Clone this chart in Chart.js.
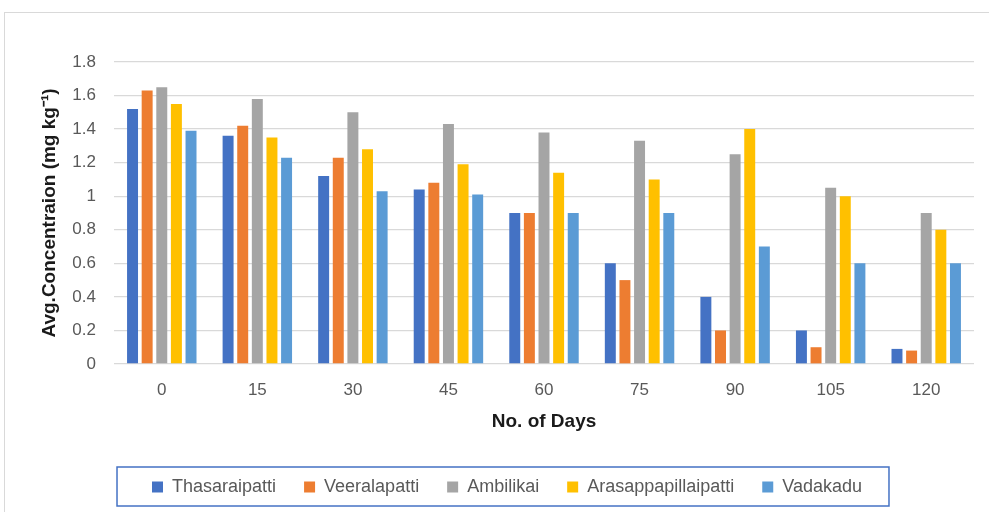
<!DOCTYPE html>
<html>
<head>
<meta charset="utf-8">
<script src="https://cdn.jsdelivr.net/npm/chart.js@4"></script>
<style>
  html, body { margin: 0; padding: 0; background: #fff; overflow: hidden; }
  #wrap { position: relative; width: 989px; height: 512px; }
  #frame { position: absolute; left: 4px; top: 12px; width: 1100px; height: 600px; border: 1px solid #d9d9d9; }
  canvas { position: absolute; left: 0; top: 0; }
</style>
</head>
<body>
<div id="wrap">
  <div id="frame"></div>
  <canvas id="chart" width="989" height="512"></canvas>
</div>
<script>
// days on the x axis
const days = ['0', '15', '30', '45', '60', '75', '90', '105', '120'];

// average concentration per site (mg/kg)
const thasaraipatti = [1.52, 1.36, 1.12, 1.04, 0.90, 0.60, 0.40, 0.20, 0.09];
const veeralapatti = [1.63, 1.42, 1.23, 1.08, 0.90, 0.50, 0.20, 0.10, 0.08];
const ambilikai = [1.65, 1.58, 1.50, 1.43, 1.38, 1.33, 1.25, 1.05, 0.90];
const arasappapillaipatti = [1.55, 1.35, 1.28, 1.19, 1.14, 1.10, 1.40, 1.00, 0.80];
const vadakadu = [1.39, 1.23, 1.03, 1.01, 0.90, 0.90, 0.70, 0.60, 0.60];

const yTicks = [0, 0.2, 0.4, 0.6, 0.8, 1, 1.2, 1.4, 1.6, 1.8];

const fontFamily = '"Liberation Sans", Arial, sans-serif';

function makeSet(label, data, color) {
    return {
        label: label,
        data: data,
        backgroundColor: color,
        borderWidth: 0,
        categoryPercentage: 0.765,
        barPercentage: 0.75
    };
}

// draws the blue box around the legend items
const legendBox = {
    id: 'legendBox',
    afterDraw(chart) {
        const boxes = chart.legend.legendHitBoxes;
        if (!boxes || !boxes.length) return;
        const first = boxes[0];
        const last = boxes[boxes.length - 1];
        const cy = first.top + first.height / 2;
        const left = first.left - 35;
        const right = last.left + last.width + 27;
        const ctx = chart.ctx;
        ctx.save();
        ctx.strokeStyle = '#4472C4';
        ctx.lineWidth = 1.5;
        ctx.strokeRect(left, cy - 20, right - left, 39);
        ctx.restore();
    }
};

const ctx = document.getElementById('chart').getContext('2d');
new Chart(ctx, {
    type: 'bar',
    data: {
        labels: days,
        datasets: [
            makeSet('Thasaraipatti', thasaraipatti, '#4472C4'),
            makeSet('Veeralapatti', veeralapatti, '#ED7D31'),
            makeSet('Ambilikai', ambilikai, '#A5A5A5'),
            makeSet('Arasappapillaipatti', arasappapillaipatti, '#FFC000'),
            makeSet('Vadakadu', vadakadu, '#5B9BD5')
        ]
    },
    options: {
        responsive: false,
        animation: false,
        layout: { padding: { left: 40, right: 15, top: 62, bottom: 6 } },
        plugins: {
            tooltip: { enabled: false },
            legend: {
                position: 'bottom',
                maxHeight: 58,
                labels: {
                    boxWidth: 11,
                    boxHeight: 11,
                    padding: 28,
                    color: '#595959',
                    font: { family: fontFamily, size: 18 }
                }
            }
        },
        scales: {
            x: {
                grid: { display: false },
                border: { display: false },
                ticks: {
                    color: '#595959',
                    padding: 8,
                    font: { family: fontFamily, size: 17 }
                },
                title: {
                    display: true,
                    text: 'No. of Days',
                    color: '#1a1a1a',
                    padding: { top: 0, bottom: 17 },
                    font: { family: fontFamily, size: 19, weight: 'bold' }
                },
                afterFit(scale) { scale.height = 86; }
            },
            y: {
                min: 0,
                max: 1.8,
                afterBuildTicks(scale) {
                    scale.ticks = yTicks.map(v => ({ value: v }));
                },
                grid: { color: '#d9d9d9', lineWidth: 1.3, drawTicks: false },
                border: { display: false },
                ticks: {
                    color: '#595959',
                    padding: 18,
                    font: { family: fontFamily, size: 17 },
                    callback: v => String(v)
                },
                title: {
                    display: true,
                    text: 'Avg.Concentraion (mg kg\u207B\u00B9)',
                    color: '#1a1a1a',
                    padding: { top: 0, bottom: 0 },
                    font: { family: fontFamily, size: 19, weight: 'bold', lineHeight: 1.0 }
                },
                afterFit(scale) { scale.width = 74; }
            }
        }
    },
    plugins: [legendBox]
});
</script>
</body>
</html>
